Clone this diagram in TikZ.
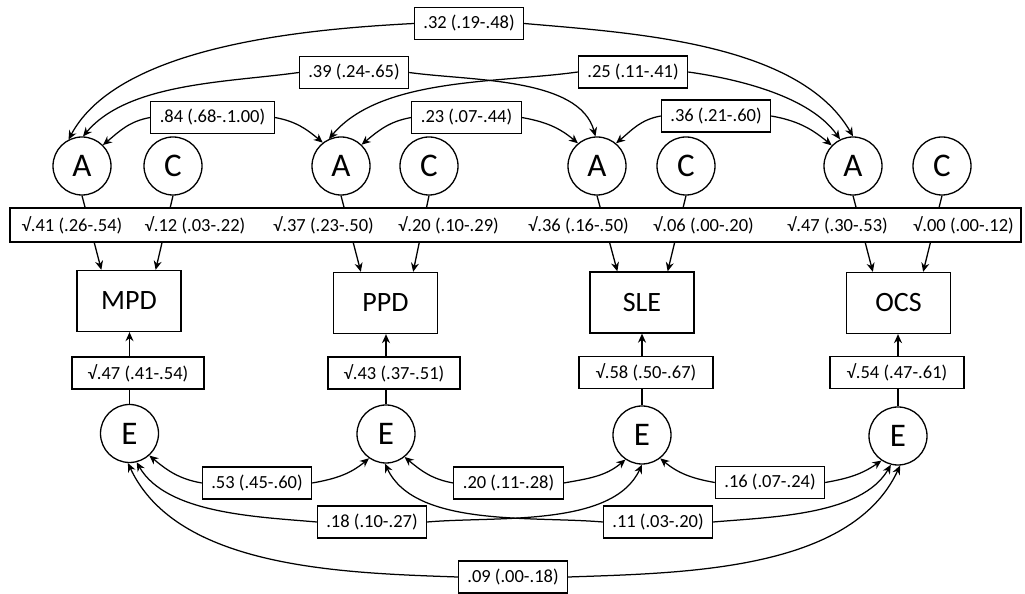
\documentclass[tikz,border=0pt]{standalone}
\usepackage{fontspec}
\setmainfont{Carlito}
\usetikzlibrary{arrows.meta}
\begin{document}
\begin{tikzpicture}[x=1pt,y=1pt,
  lat/.style={circle,draw,line width=1.3pt,minimum size=58pt,inner sep=0pt,font=\fontsize{33}{36}\selectfont},
  obs/.style={rectangle,draw,line width=1.3pt,minimum width=104pt,minimum height=61pt,inner sep=0pt,font=\fontsize{28}{32}\selectfont},
  lab/.style={rectangle,draw,line width=1.1pt,fill=white,minimum height=32pt,inner xsep=9pt,inner ysep=0pt,font=\fontsize{18.5}{22}\selectfont},
  ld/.style={inner sep=0pt,font=\fontsize{18.5}{22}\selectfont},
  arr/.style={line width=1.3pt,-{Stealth[length=9pt,width=8pt]}},
  cov/.style={line width=1.25pt,-{Stealth[length=9pt,width=8pt]}},
]
\useasboundingbox (0,0) rectangle (1025,594);
% latent A, C
\node[lat] (A1) at (82,428) {A};
\node[lat] (C1) at (173,428) {C};
\node[lat] (A2) at (341,428) {A};
\node[lat] (C2) at (429,428) {C};
\node[lat] (A3) at (597,428) {A};
\node[lat] (C3) at (686,428) {C};
\node[lat] (A4) at (853,428) {A};
\node[lat] (C4) at (942,428) {C};
% observed
\node[obs] (MPD) at (129,293) {MPD};
\node[obs] (PPD) at (385.5,291) {PPD};
\node[obs] (SLE) at (642,291.5) {SLE};
\node[obs] (OCS) at (898.5,291) {OCS};
% E
\node[lat] (E1) at (129.5,160.5) {E};
\node[lat] (E2) at (386,160) {E};
\node[lat] (E3) at (642,159) {E};
\node[lat] (E4) at (898,158) {E};
% loading arrows
\draw[arr] (A1.south) -- ([xshift=25pt]MPD.north west);
\draw[arr] (C1.south) -- ([xshift=-26pt]MPD.north east);
\draw[arr] (A2.south) -- ([xshift=28pt]PPD.north west);
\draw[arr] (C2.south) -- ([xshift=-25pt]PPD.north east);
\draw[arr] (A3.south) -- ([xshift=28pt]SLE.north west);
\draw[arr] (C3.south) -- ([xshift=-27pt]SLE.north east);
\draw[arr] (A4.south) -- ([xshift=27pt]OCS.north west);
\draw[arr] (C4.south) -- ([xshift=-28pt]OCS.north east);
\draw[arr] (E1.north) -- (E1.north |- MPD.south);
\draw[arr] (E2.north) -- (E2.north |- PPD.south);
\draw[arr] (E3.north) -- (E3.north |- SLE.south);
\draw[arr] (E4.north) -- (E4.north |- OCS.south);
% loading band
\draw[line width=1.1pt,fill=white] (10,352) rectangle (1021,386);
\node[ld] (l1) at (72,369) {√.41 (.26-.54)};
\node[ld] (l2) at (195,369) {√.12 (.03-.22)};
\node[ld] (l3) at (323.5,369) {√.37 (.23-.50)};
\node[ld] (l4) at (448.5,369) {√.20 (.10-.29)};
\node[ld] (l5) at (578.5,369) {√.36 (.16-.50)};
\node[ld] (l6) at (703.5,369) {√.06 (.00-.20)};
\node[ld] (l7) at (837.5,369) {√.47 (.30-.53)};
\node[ld] (l8) at (963.5,369) {√.00 (.00-.12)};
% error loadings
\node[lab,minimum width=132pt] (e1) at (138,221) {√.47 (.41-.54)};
\node[lab,minimum width=132pt] (e2) at (394,221) {√.43 (.37-.51)};
\node[lab,minimum width=134pt] (e3) at (646,221.5) {√.58 (.50-.67)};
\node[lab,minimum width=134pt] (e4) at (897,221.5) {√.54 (.47-.61)};
% covariance labels
\node[lab] (c32) at (469,570.5) {.32 (.19-.48)};
\node[lab] (c39) at (354,521.5) {.39 (.24-.65)};
\node[lab] (c25) at (633,522) {.25 (.11-.41)};
\node[lab] (c84) at (212.5,476.5) {.84 (.68-.1.00)};
\node[lab] (c23) at (466.5,476.5) {.23 (.07-.44)};
\node[lab] (c36) at (716,478) {.36 (.21-.60)};
\node[lab] (c53) at (257,111) {.53 (.45-.60)};
\node[lab] (c20) at (508.5,111) {.20 (.11-.28)};
\node[lab] (c16) at (770,111.5) {.16 (.07-.24)};
\node[lab] (c18) at (372,72) {.18 (.10-.27)};
\node[lab] (c11) at (658,72) {.11 (.03-.20)};
\node[lab] (c09) at (513,17) {.09 (.00-.18)};
% A covariances
\draw[cov] (c32.west) to[out=183,in=62,looseness=.75] (A1.117);
\draw[cov] (c32.east) to[out=-5,in=120,looseness=.8] (A4.90);
\draw[cov] (c39.west) to[out=188,in=50,looseness=.8] (A1.88);
\draw[cov] (c39.east) to[out=-8,in=105,looseness=.8] (A3.93);
\draw[cov] (c25.west) to[out=188,in=50,looseness=.8] (A2.114);
\draw[cov] (c25.east) to[out=-8,in=125,looseness=.8] (A4.116);
\draw[cov] (c84.west) to[out=190,in=40] (A1.45);
\draw[cov] (c84.east) to[out=-10,in=140] (A2.128);
\draw[cov] (c23.west) to[out=190,in=40] (A2.46);
\draw[cov] (c23.east) to[out=-10,in=140] (A3.130);
\draw[cov] (c36.west) to[out=190,in=40] (A3.50);
\draw[cov] (c36.east) to[out=-10,in=140] (A4.136);
% E covariances
\draw[cov] (c53.west) to[out=170,in=320] (E1.312);
\draw[cov] (c53.east) to[out=10,in=220] (E2.235);
\draw[cov] (c20.west) to[out=170,in=320] (E2.309);
\draw[cov] (c20.east) to[out=10,in=220] (E3.236);
\draw[cov] (c16.west) to[out=170,in=320] (E3.308);
\draw[cov] (c16.east) to[out=10,in=215] (E4.236);
\draw[cov] (c18.west) to[out=175,in=300,looseness=.8] (E1.284);
\draw[cov] (c18.east) to[out=5,in=245,looseness=.8] (E3.270);
\draw[cov] (c11.west) to[out=175,in=295,looseness=.8] (E2.268);
\draw[cov] (c11.east) to[out=5,in=240,looseness=.8] (E4.256);
\draw[cov] (c09.west) to[out=178,in=295,looseness=.85] (E1.267);
\draw[cov] (c09.east) to[out=2,in=245,looseness=.85] (E4.274);
\end{tikzpicture}
\end{document}
